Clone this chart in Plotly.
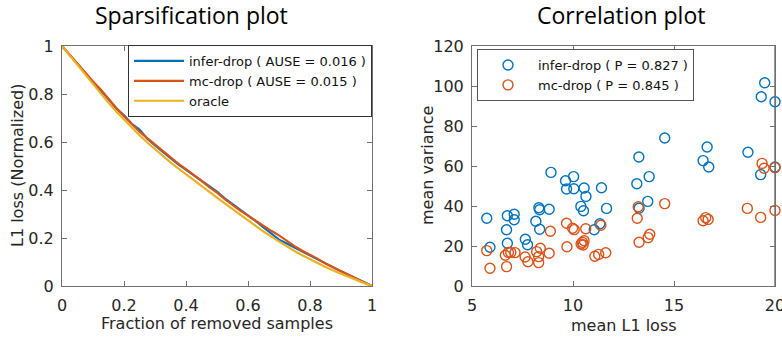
import plotly.graph_objects as go

# ---------------- data ----------------
frac = [0, 0.025, 0.05, 0.075, 0.1, 0.125, 0.15, 0.175, 0.2, 0.225, 0.25, 0.275, 0.3,
        0.325, 0.35, 0.375, 0.4, 0.425, 0.45, 0.475, 0.5, 0.525, 0.55, 0.575, 0.6,
        0.625, 0.65, 0.675, 0.7, 0.725, 0.75, 0.775, 0.8, 0.825, 0.85, 0.875, 0.9,
        0.925, 0.95, 0.975, 1.0]
infer_drop_curve = [1, 0.962, 0.924, 0.886, 0.848, 0.813, 0.778, 0.740, 0.711, 0.676, 0.652,
                    0.614, 0.586, 0.561, 0.533, 0.507, 0.484, 0.461, 0.436, 0.415, 0.393,
                    0.365, 0.342, 0.316, 0.295, 0.270, 0.244, 0.218, 0.193, 0.177, 0.160,
                    0.144, 0.129, 0.111, 0.093, 0.077, 0.061, 0.046, 0.031, 0.015, 0]
mc_drop_curve = [1, 0.962, 0.925, 0.888, 0.852, 0.819, 0.779, 0.742, 0.707, 0.673, 0.643,
                 0.616, 0.589, 0.562, 0.534, 0.510, 0.487, 0.464, 0.438, 0.412, 0.389,
                 0.362, 0.337, 0.314, 0.293, 0.272, 0.248, 0.230, 0.211, 0.187, 0.166,
                 0.147, 0.131, 0.113, 0.094, 0.077, 0.061, 0.046, 0.030, 0.015, 0]
oracle_curve = [1, 0.96, 0.92, 0.88, 0.84, 0.801, 0.763, 0.727, 0.693, 0.66, 0.628, 0.598,
                0.569, 0.541, 0.515, 0.49, 0.465, 0.44, 0.416, 0.392, 0.368, 0.344, 0.32,
                0.296, 0.273, 0.25, 0.227, 0.206, 0.185, 0.165, 0.146, 0.128, 0.111, 0.095,
                0.079, 0.065, 0.051, 0.038, 0.025, 0.012, 0]

infer_x = [5.73, 5.89, 6.71, 6.75, 6.75, 7.09, 7.09, 7.64, 7.75, 8.16, 8.31, 8.35, 8.35,
           8.82, 8.91, 9.63, 9.68, 10.03, 10.04, 10.39, 10.52, 10.55, 10.64, 11.05, 11.33,
           11.41, 11.66, 13.16, 13.26, 13.27, 13.70, 13.77, 14.54, 16.44, 16.64, 16.72,
           18.66, 19.29, 19.32, 19.49, 20.0, 20.0]
infer_y = [33.9, 19.4, 28.1, 35.1, 21.4, 35.9, 33.1, 23.4, 20.6, 32.4, 39.1, 38.1, 28.4,
           38.4, 56.8, 52.6, 48.5, 54.7, 48.6, 39.8, 37.6, 49.0, 44.8, 28.1, 31.1,
           49.1, 38.8, 51.1, 64.5, 38.9, 42.3, 54.7, 74.0, 62.7, 69.5, 59.5,
           66.9, 55.7, 94.6, 101.6, 92.1, 59.5]
mc_x = [5.73, 5.89, 6.65, 6.71, 6.80, 6.92, 7.13, 7.63, 7.77, 8.20, 8.30, 8.38, 8.30, 8.82,
        8.88, 9.68, 9.70, 9.98, 10.06, 10.40, 10.47, 10.55, 10.50, 10.63, 11.08, 11.27,
        11.38, 11.62, 13.18, 13.23, 13.27, 13.72, 13.80, 14.54, 16.44, 16.57, 16.69,
        18.63, 19.29, 19.36, 19.46, 20.0, 20.0]
mc_y = [17.7, 8.9, 15.4, 9.7, 16.8, 16.8, 16.7, 14.5, 12.1, 17.2, 11.7, 18.9, 14.7, 16.4,
        27.4, 31.4, 19.6, 28.9, 28.2, 21.0, 21.8, 22.6, 20.5, 28.6, 14.9, 15.8,
        30.4, 16.6, 33.9, 39.6, 21.9, 24.2, 25.9, 41.2, 32.6, 34.2, 33.3,
        38.8, 34.3, 61.3, 58.9, 59.2, 37.8]

left_ticks = [0, 0.2, 0.4, 0.6, 0.8, 1]
left_ticktext = ["0", "0.2", "0.4", "0.6", "0.8", "1"]
right_xticks = [5, 10, 15, 20]
right_yticks = [0, 20, 40, 60, 80, 100, 120]

BLUE = "#0072BD"
ORANGE = "#D95319"
YELLOW = "#EDB120"

W, H = 782, 338
FONT = "DejaVu Sans"
TICKC = "#262626"
AXC = "#707070"

fig = go.Figure()

# left plot
fig.add_trace(go.Scatter(x=frac, y=infer_drop_curve, mode="lines", name="infer-drop ( AUSE = 0.016 )",
                         line=dict(color=BLUE, width=2.2), xaxis="x", yaxis="y", legend="legend"))
fig.add_trace(go.Scatter(x=frac, y=mc_drop_curve, mode="lines", name="mc-drop ( AUSE = 0.015 )",
                         line=dict(color=ORANGE, width=2.2), xaxis="x", yaxis="y", legend="legend"))
fig.add_trace(go.Scatter(x=frac, y=oracle_curve, mode="lines", name="oracle",
                         line=dict(color=YELLOW, width=2.2), xaxis="x", yaxis="y", legend="legend"))

# right plot
fig.add_trace(go.Scatter(x=infer_x, y=infer_y, mode="markers", name="infer-drop ( P = 0.827 )",
                         marker=dict(symbol="circle-open", size=10, color=BLUE, line=dict(width=1.4)),
                         cliponaxis=False, xaxis="x2", yaxis="y2", legend="legend2"))
fig.add_trace(go.Scatter(x=mc_x, y=mc_y, mode="markers", name="mc-drop ( P = 0.845 )",
                         marker=dict(symbol="circle-open", size=10, color=ORANGE, line=dict(width=1.4)),
                         cliponaxis=False, xaxis="x2", yaxis="y2", legend="legend2"))

def px_x(p):
    return p / W

def px_y(p):
    return (H - p) / H

axis_common = dict(showgrid=False, zeroline=False, showline=True, linecolor=AXC, linewidth=1,
                   mirror="ticks", ticks="inside", ticklen=5, tickcolor=AXC, automargin=False,
                   ticklabeloverflow="allow",
                   tickfont=dict(family=FONT, size=16, color=TICKC))

ytop, ybot = 46, 286
fig.update_layout(
    width=W, height=H,
    margin=dict(l=0, r=0, t=0, b=0),
    paper_bgcolor="white", plot_bgcolor="white",
    xaxis=dict(domain=[px_x(62), px_x(372)], range=[0, 1], tickvals=left_ticks, ticktext=left_ticktext,
               anchor="y", ticklabelstandoff=5, **axis_common),
    yaxis=dict(domain=[px_y(ybot), px_y(ytop)], range=[0, 1], tickvals=left_ticks, ticktext=left_ticktext,
               anchor="x", ticklabelstandoff=4, **axis_common),
    xaxis2=dict(domain=[px_x(472), px_x(775)], range=[5, 20], tickvals=right_xticks,
                anchor="y2", ticklabelstandoff=5, **axis_common),
    yaxis2=dict(domain=[px_y(ybot), px_y(ytop)], range=[0, 120], tickvals=right_yticks,
                anchor="x2", ticklabelstandoff=4, **axis_common),
    legend=dict(x=px_x(128), y=px_y(45), xanchor="left", yanchor="top", bgcolor="white",
                bordercolor="#333333", borderwidth=1, itemwidth=50,
                font=dict(family=FONT, size=13, color="#111111"), tracegroupgap=0),
    legend2=dict(x=px_x(477), y=px_y(49), xanchor="left", yanchor="top", bgcolor="white",
                 bordercolor="#555555", borderwidth=1, itemwidth=50,
                 font=dict(family=FONT, size=13, color="#111111"), tracegroupgap=0),
    showlegend=True,
)

# right border of the correlation plot at x = 20
fig.add_shape(type="line", xref="x2", yref="y2 domain", x0=right_xticks[-1], x1=right_xticks[-1],
              y0=0, y1=1, line=dict(color="#333333", width=1), layer="below")

annots = [
    dict(text="Sparsification plot", x=px_x(191), y=px_y(15), font=dict(family="Open Sans", size=23, color="black")),
    dict(text="Correlation plot", x=px_x(621), y=px_y(15), font=dict(family="Open Sans", size=23, color="black")),
    dict(text="Fraction of removed samples", x=px_x(217), y=px_y(323), font=dict(family=FONT, size=16, color=TICKC)),
    dict(text="mean L1 loss", x=px_x(624), y=px_y(325), font=dict(family=FONT, size=16, color=TICKC)),
    dict(text="L1 loss (Normalized)", x=px_x(18), y=px_y(166), textangle=-90, font=dict(family=FONT, size=16, color=TICKC)),
    dict(text="mean variance", x=px_x(428), y=px_y(166), textangle=-90, font=dict(family=FONT, size=16, color=TICKC)),
]
for a in annots:
    fig.add_annotation(xref="paper", yref="paper", showarrow=False, xanchor="center", yanchor="middle", **a)

fig.write_html("out.html", post_script="document.body.style.margin='0';")
